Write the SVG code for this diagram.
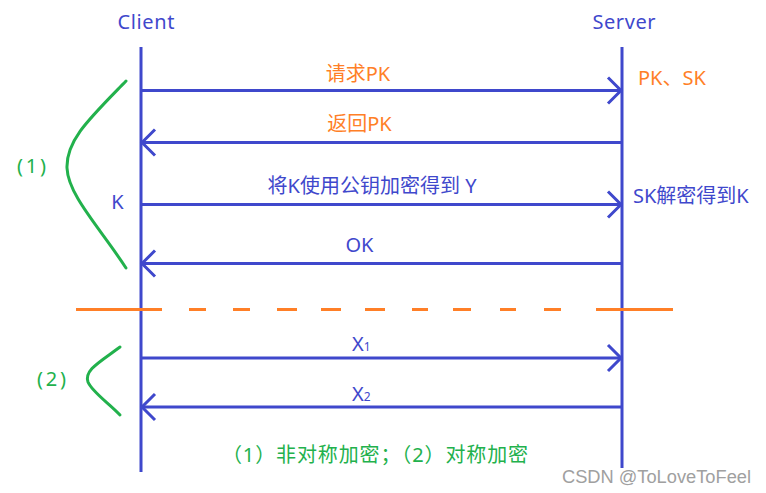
<svg xmlns="http://www.w3.org/2000/svg" width="766" height="493" viewBox="0 0 766 493">
<defs>
<style>
text{font-family:"Noto Sans","Noto Sans CJK SC",sans-serif;font-size:20px}
.b{fill:#3f48cc}.o{fill:#ff7f27}.g{fill:#22b14c}
.life{stroke:#3f48cc;stroke-width:3;fill:none}
.msg{stroke:#3f48cc;stroke-width:3;fill:none}
.r{marker-end:url(#ah)}
.brace{stroke:#22b14c;stroke-width:3;fill:none;stroke-linecap:round}
.sep{stroke:#ff7f27;stroke-width:3;fill:none}
</style>
<marker id="ah" markerUnits="userSpaceOnUse" viewBox="-16 -16 20 32" markerWidth="20" markerHeight="32" refX="0" refY="0" orient="auto">
<path d="M-13,-13 L0,0 L-13,13" fill="none" stroke="#3f48cc" stroke-width="3"/>
</marker>
</defs>
<rect width="766" height="493" fill="#fff"/>
<g id="client">
<text class="b" x="146" y="29" text-anchor="middle" textLength="57">Client</text>
<line class="life" x1="141" y1="47" x2="141" y2="472"/>
</g>
<g id="server">
<text class="b" x="624" y="29" text-anchor="middle" textLength="63">Server</text>
<line class="life" x1="622" y1="47" x2="622" y2="468"/>
<text class="o" x="638" y="85">PK、SK</text>
<text class="b" x="633" y="203">SK解密得到K</text>
</g>
<g id="connectors">
<line class="msg r" x1="141" y1="90.5" x2="621" y2="90.5"/>
<line class="msg r" x1="622" y1="142.5" x2="142" y2="142.5"/>
<line class="msg r" x1="141" y1="204.5" x2="621" y2="204.5"/>
<line class="msg r" x1="622" y1="263.5" x2="142" y2="263.5"/>
<line class="msg r" x1="141" y1="358" x2="621" y2="358"/>
<line class="msg r" x1="622" y1="407" x2="142" y2="407"/>
</g>
<g id="labels">
<text class="o" x="358" y="81" text-anchor="middle">请求PK</text>
<text class="o" x="359.5" y="131" text-anchor="middle">返回PK</text>
<text class="b" x="372" y="193" text-anchor="middle">将K使用公钥加密得到 Y</text>
<text class="b" x="359.5" y="252" text-anchor="middle">OK</text>
<text class="b" x="352" y="351">X<tspan font-size="12">1</tspan></text>
<text class="b" x="352" y="401">X<tspan font-size="12">2</tspan></text>
<text class="b" x="117.5" y="209" text-anchor="middle">K</text>
</g>
<g id="phase1">
<path class="brace" d="M126,81 C90,118 66,140 67,168 C68,195 100,228 126,268"/>
<text class="g" x="17" y="173" textLength="29">(1)</text>
</g>
<g id="separator">
<path class="sep" d="M76,309.5H162M189,309.5H206M233,309.5H250M277,309.5H297M321,309.5H341M365,309.5H385M412,309.5H428M453,309.5H471M500,309.5H516M544,309.5H561M596,309.5H673"/>
</g>
<g id="phase2">
<path class="brace" d="M120,347 C100,362 84,370 88,382 C92,392 110,404 120,415"/>
<text class="g" x="37" y="386" textLength="29">(2)</text>
</g>
<g id="legend">
<text class="g" x="222" y="462" textLength="306">（1）非对称加密；（2）对称加密</text>
</g>
<g id="watermark">
<text x="562" y="483" textLength="189" lengthAdjust="spacingAndGlyphs" style="font-family:'Liberation Sans',sans-serif;font-size:18px;fill:#a0a0a0">CSDN @ToLoveToFeel</text>
</g>
</svg>
